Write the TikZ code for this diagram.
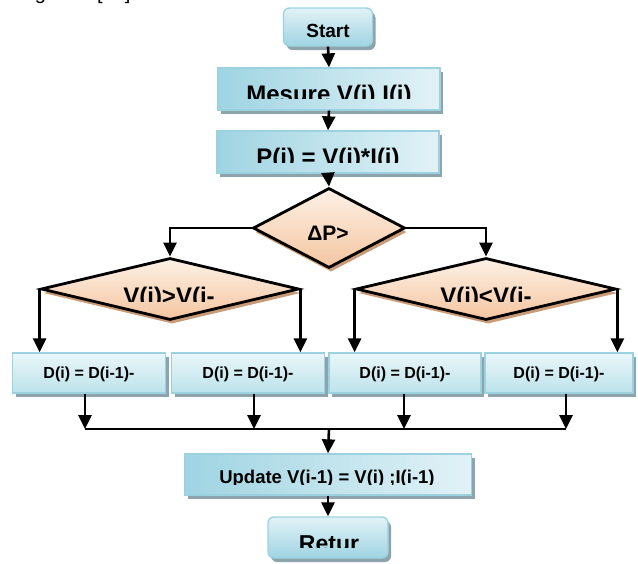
\documentclass[tikz,border=0pt]{standalone}
\usepackage{fontspec}
\setmainfont{Liberation Sans}
\usetikzlibrary{shapes.geometric,shadows,arrows.meta}

\definecolor{boxedge}{HTML}{9CD2E0}
\definecolor{boxshadow}{HTML}{8EA4AC}
\definecolor{blueDark}{HTML}{9FD4E2}
\definecolor{blueLight}{HTML}{E2F2F7}
\definecolor{blueTop}{HTML}{EAF6F9}
\definecolor{blueBottom}{HTML}{BCE2EB}
\definecolor{peachTop}{HTML}{FDF1E6}
\definecolor{peachBottom}{HTML}{F4C5A0}
\definecolor{peachShadow}{HTML}{C99B78}

\tikzset{
  bx/.style={draw=boxedge, line width=1.3pt, inner sep=0pt,
    drop shadow={shadow xshift=3pt, shadow yshift=-4pt, fill=boxshadow, opacity=1}},
  procbox/.style={bx, left color=blueDark, right color=blueLight},
  dbox/.style={bx, top color=blueTop, bottom color=blueBottom},
  termbox/.style={bx, rounded corners=6pt, top color=blueLight, bottom color=blueDark},
  decision/.style={diamond, draw=black, line width=2.8pt, inner sep=0pt,
    top color=peachTop, bottom color=peachBottom,
    drop shadow={shadow xshift=2pt, shadow yshift=-4pt, fill=peachShadow, opacity=1}},
  flow/.style={line width=2.6pt, -{Triangle[width=13pt,length=14pt]}},
  lbl/.style={anchor=base, inner sep=0pt},
}

% bold label whose lower part is cut off at a given height
\newcommand{\cuttext}[6]{%
  \begin{scope}
    \clip (0,0) rectangle (638,#4);
    \node[lbl, font=\fontsize{#5}{#5}\selectfont\bfseries] (#1) at (#2,#3) {#6};
  \end{scope}}

\begin{document}
\begin{tikzpicture}[x=1pt, y=-1pt]
\useasboundingbox (0,0) rectangle (638,563);

% caption fragment at the top edge
\node[anchor=base west, inner sep=0pt, font=\fontsize{20}{24}\selectfont] (cap) at (18,-1) {Figure 3 [33]};

% boxes
\node[termbox, minimum width=89pt, minimum height=38pt] (start) at (328,27) {};
\node[procbox, minimum width=222pt, minimum height=42pt] (mes) at (329,89) {};
\node[procbox, minimum width=222pt, minimum height=42pt] (pw) at (328,152) {};
\node[decision, minimum width=152pt, minimum height=80pt] (dP) at (329,228) {};
\node[decision, minimum width=258pt, minimum height=62pt] (ld) at (170,289) {};
\node[decision, minimum width=260pt, minimum height=62pt] (rd) at (486,289) {};
\node[dbox, minimum width=153pt, minimum height=40pt] (d1) at (89,373) {};
\node[dbox, minimum width=153pt, minimum height=40pt] (d2) at (248,373) {};
\node[dbox, minimum width=152pt, minimum height=40pt] (d3) at (405,373) {};
\node[dbox, minimum width=148pt, minimum height=40pt] (d4) at (559,373) {};
\node[procbox, minimum width=287pt, minimum height=41pt] (upd) at (328,474.5) {};
\node[termbox, minimum width=120pt, minimum height=41pt] (ret) at (328,537.5) {};

% labels
\node[lbl, font=\fontsize{19}{19}\selectfont\bfseries] (tstart) at (328,37) {Start};
\cuttext{tmes}{329}{102}{98.5}{24}{Mesure V(i) I(i)}
\cuttext{tpw}{328}{165}{162}{24}{P(i) = V(i)*I(i)}
\node[lbl, font=\fontsize{21}{21}\selectfont\bfseries] (tdP) at (328,240) {ΔP>};
\cuttext{tld}{169}{304}{301}{24}{V(i)>V(i-}
\cuttext{trd}{486}{304}{301}{24}{V(i)<V(i-}
\node[lbl, font=\fontsize{16}{16}\selectfont\bfseries] (t1) at (89,378.5) {D(i) = D(i-1)-};
\node[lbl, font=\fontsize{16}{16}\selectfont\bfseries] (t2) at (248,378.5) {D(i) = D(i-1)-};
\node[lbl, font=\fontsize{16}{16}\selectfont\bfseries] (t3) at (405,378.5) {D(i) = D(i-1)-};
\node[lbl, font=\fontsize{16}{16}\selectfont\bfseries] (t4) at (559,378.5) {D(i) = D(i-1)-};
\cuttext{tupd}{327}{483}{484}{18.5}{Update V(i-1) = V(i) ;I(i-1)}
\cuttext{tret}{329}{551.5}{547}{23}{Retur}

% collecting line
\coordinate (b1) at (85,429);
\coordinate (b2) at (254,429);
\coordinate (b3) at (404,429);
\coordinate (b4) at (566,429);
\coordinate (bm) at (329,429);

% connectors
\draw[flow] (start.south) -- (mes.north);
\draw[flow] (mes.south) -- (pw.north);
\draw[flow] (pw.south) -- (dP.north);
\draw[flow] (dP.west) -| (ld.north);
\draw[flow] (dP.east) -| (rd.north);
\draw[flow] (ld.west) -- (ld.west |- d1.north);
\draw[flow] (ld.east) -- (ld.east |- d2.north);
\draw[flow] (rd.west) -- (rd.west |- d3.north);
\draw[flow] (rd.east) -- (rd.east |- d4.north);
\draw[flow] (d1.south -| b1) -- (b1);
\draw[flow] (d2.south -| b2) -- (b2);
\draw[flow] (d3.south -| b3) -- (b3);
\draw[flow] (d4.south -| b4) -- (b4);
\draw[line width=2.6pt] (b1) -- (b4);
\draw[flow] (bm) -- (upd.north);
\draw[flow] (upd.south) -- (ret.north);
\end{tikzpicture}
\end{document}
